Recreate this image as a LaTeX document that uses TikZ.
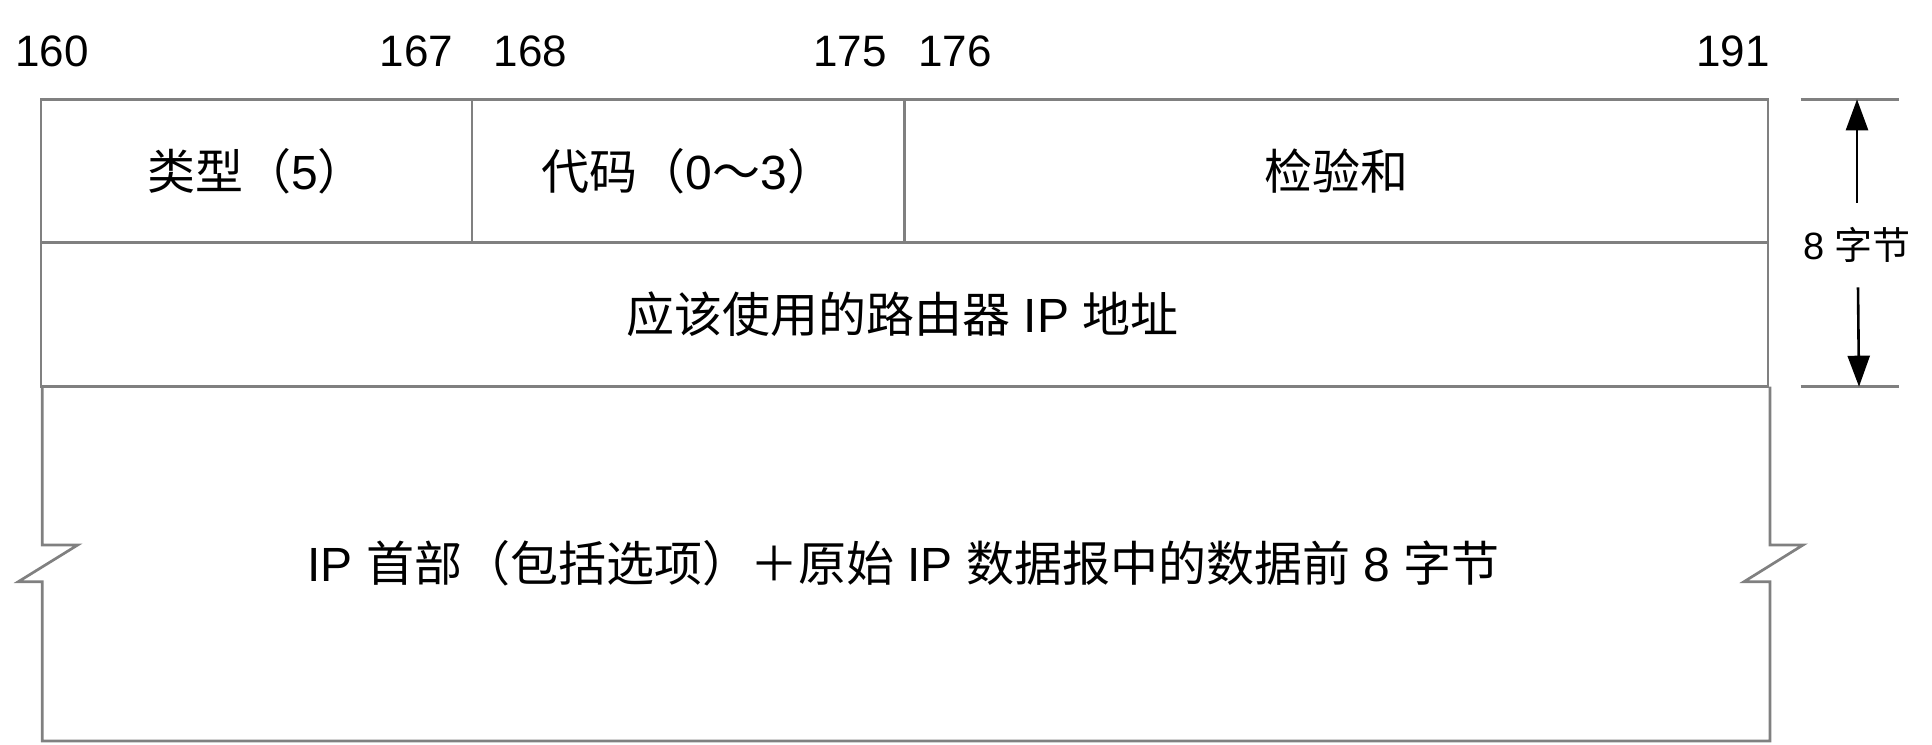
\documentclass[tikz,border=0pt]{standalone}
\usepackage{fontspec}
\setmainfont{Liberation Sans}
\newfontfamily\cjk{Noto Sans CJK SC}
\usetikzlibrary{arrows.meta}
\tikzset{
  frame/.style={draw=black!50, line width=2.7pt, line join=miter},
  celltext/.style={inner sep=0pt, font=\fontsize{48}{56}\selectfont},
  bitnum/.style={inner sep=0pt, font=\fontsize{44}{50}\selectfont},
  sizetext/.style={inner sep=0pt, font=\fontsize{38}{44}\selectfont},
  dimarrow/.style={draw=black, line width=2.6pt, -{Triangle[width=22pt,length=31pt]}},
  tickline/.style={draw=black!50, line width=2.7pt}
}
\begin{document}
\begin{tikzpicture}[x=1pt, y=-1pt]
\useasboundingbox (0,0) rectangle (1932,744);
% upper frame
\draw[frame] (41,99.3) rectangle (1768,386.7);
\draw[frame] (41,242.7) -- (1768,242.7);
\draw[frame] (472,99.3) -- (472,242.7);
\draw[frame] (904.5,99.3) -- (904.5,242.7);
% lower frame with breaks
\draw[frame] (42.3,386.7) -- (42.3,545) -- (77.7,545) -- (18.3,581.7) -- (42.3,581.7) -- (42.3,741)
  -- (1770,741) -- (1770,581.7) -- (1744,581.7) -- (1803,545) -- (1770,545) -- (1770,386.7);
% bit numbers
\node[bitnum, anchor=base west] (n160) at (15,66.7) {160};
\node[bitnum, anchor=base east] (n167) at (453.5,66.7) {167};
\node[bitnum, anchor=base west] (n168) at (493.7,66.7) {168};
\node[bitnum, anchor=base east] (n175) at (887,66.7) {175};
\node[bitnum, anchor=base west] (n176) at (918.3,66.7) {176};
\node[bitnum, anchor=base east] (n191) at (1770,66.7) {191};
% cell texts
\node[celltext] (type) at (256.5,171) {{\cjk 类型（}5{\cjk ）}};
\node[celltext] (code) at (688.3,171) {{\cjk 代码（}0{\cjk ～}3{\cjk ）}};
\node[celltext] (sum) at (1336,171) {{\cjk 检验和}};
\node[celltext] (router) at (902.5,314.7) {{\cjk 应该使用的路由器} IP {\cjk 地址}};
\node[celltext] (data) at (903.5,563.5) {IP {\cjk 首部（包括选项）＋原始} IP {\cjk 数据报中的数据前} 8 {\cjk 字节}};
% size indicator
\coordinate (ttop) at (1857,99.3);
\coordinate (tbot) at (1859,386.7);
\draw[tickline] (1800.7,99.3) -- (1899,99.3);
\draw[tickline] (1800.7,386.7) -- (1899,386.7);
\node[sizetext] (size) at (1857,245) {8 {\cjk 字节}};
\draw[dimarrow] (1857,202.7) -- (ttop);
\draw[dimarrow] (1858,287.3) -- (tbot);
\end{tikzpicture}
\end{document}
